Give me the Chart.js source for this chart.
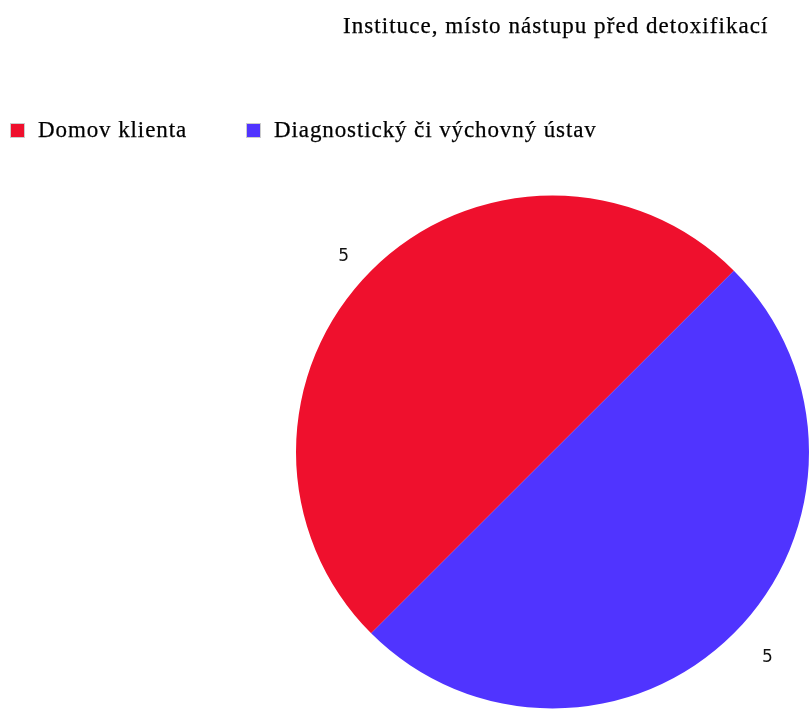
<!DOCTYPE html>
<html>
<head>
    <title>Instituce, místo nástupu</title>
    <script src="https://cdn.jsdelivr.net/npm/chart.js"></script>
    <style>
        body {
            margin: 0;
            background: white;
            font-family: "Liberation Serif", "Times New Roman", serif;
        }
        .wrap {
            position: relative;
            width: 809px;
            height: 709px;
            overflow: hidden;
        }
        .title, .legend span.item {
            font-size: 23px;
            letter-spacing: 0.9px;
            color: #000;
            -webkit-text-stroke: 0.25px #000;
            white-space: nowrap;
        }
        .title {
            position: absolute;
            left: 343px;
            top: 13px;
            letter-spacing: 1.05px;
        }
        .legend span.item {
            position: absolute;
            top: 117px;
        }
        .legend i {
            display: inline-block;
            width: 15px;
            height: 15px;
            margin-right: 13px;
            vertical-align: -1px;
            box-sizing: border-box;
            border: 1px solid #ccc;
        }
        canvas { position: absolute; left: 0; top: 0; }
    </style>
</head>
<body>
<div class="wrap">
    <canvas id="myChart" width="809" height="709"></canvas>
    <div class="title">Instituce, místo nástupu před detoxifikací</div>
    <div class="legend" id="legend"></div>
</div>
<script>
    const categories = ['Domov klienta', 'Diagnostický či výchovný ústav'];
    const values = [5, 5];
    const colors = ['#EF102D', '#5034FF'];
    const legendX = [10, 246];

    // legend as plain text
    const legend = document.getElementById('legend');
    categories.forEach((c, i) => {
        const s = document.createElement('span');
        s.className = 'item';
        s.style.left = legendX[i] + 'px';
        s.innerHTML = '<i style="background:' + colors[i] + '"></i>' + c;
        legend.appendChild(s);
    });

    // value labels outside the slices
    const outsideLabels = {
        id: 'outsideLabels',
        afterDatasetsDraw(chart) {
            const ctx = chart.ctx;
            const meta = chart.getDatasetMeta(0);
            ctx.save();
            ctx.font = '17px "DejaVu Sans", sans-serif';
            ctx.fillStyle = '#111';
            ctx.textAlign = 'center';
            ctx.textBaseline = 'middle';
            meta.data.forEach((arc, i) => {
                const mid = (arc.startAngle + arc.endAngle) / 2;
                const d = arc.outerRadius + 36;
                let x = arc.x + Math.cos(mid) * d;
                let y = arc.y + Math.sin(mid) * d;
                // labels on the right sit a bit further out, on the left a bit lower
                if (Math.cos(mid) > 0) { x += 8; y -= 1; } else { x -= 2; y += 11; }
                ctx.fillText(values[i], x, y);
            });
            ctx.restore();
        }
    };

    new Chart(document.getElementById('myChart'), {
        type: 'pie',
        data: {
            labels: categories,
            datasets: [{
                data: values,
                backgroundColor: colors,
                borderWidth: 0
            }]
        },
        options: {
            responsive: false,
            animation: false,
            rotation: 225,
            layout: {
                padding: { left: 296, top: 195, right: 0, bottom: 0 }
            },
            plugins: {
                legend: { display: false },
                title: { display: false },
                tooltip: { enabled: false }
            }
        },
        plugins: [outsideLabels]
    });
</script>
</body>
</html>
